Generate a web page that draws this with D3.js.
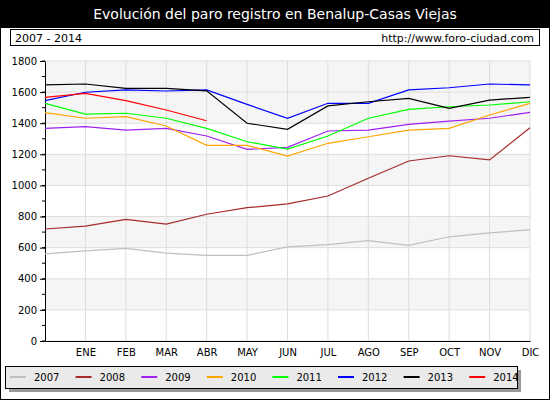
<!DOCTYPE html><html><head><meta charset="utf-8"><script src="https://cdn.jsdelivr.net/npm/d3@7"></script>
<style>body{margin:0;background:#fff}svg{display:block;font-family:"DejaVu Sans",sans-serif}</style></head><body><svg width="550" height="400"></svg><script>
const months=["","ENE","FEB","MAR","ABR","MAY","JUN","JUL","AGO","SEP","OCT","NOV","DIC"];
const years=["2007","2008","2009","2010","2011","2012","2013","2014"];
const colors=["#c0c0c0","#a52a2a","#a020f0","#ffa500","#00ff00","#0000ff","#000000","#ff0000"];
const v2007=[560,580,595,565,550,550,605,620,645,615,670,695,715];
const v2008=[720,739,782,752,815,857,881,932,1046,1157,1191,1164,1371];
const v2009=[1367,1378,1356,1367,1318,1232,1245,1350,1356,1393,1414,1432,1470];
const v2010=[1468,1432,1442,1382,1258,1258,1189,1271,1313,1356,1367,1453,1528];
const v2011=[1528,1459,1464,1432,1367,1281,1234,1318,1432,1489,1506,1517,1538];
const v2012=[1545,1599,1614,1607,1614,1521,1432,1528,1528,1614,1628,1652,1646];
const v2013=[1646,1652,1624,1624,1608,1400,1361,1511,1538,1560,1496,1549,1566];
const v2014=[1566,1592,1545,1485,1416];
const series=[v2007,v2008,v2009,v2010,v2011,v2012,v2013,v2014];
const yTicks=[0,200,400,600,800,1000,1200,1400,1600,1800];
const svg=d3.select("svg");
svg.append("rect").attr("x",0.5).attr("y",0.5).attr("width",549).attr("height",399).attr("fill","#fff").attr("stroke","#000");
svg.append("rect").attr("x",0).attr("y",0).attr("width",550).attr("height",28).attr("fill","#000");
svg.append("text").attr("x",275).attr("y",19).attr("text-anchor","middle").attr("fill","#fff").attr("font-size",14).text("Evolución del paro registro en Benalup-Casas Viejas");
svg.append("rect").attr("x",10.5).attr("y",29.5).attr("width",529).attr("height",16).attr("fill","#fff").attr("stroke","#000");
svg.append("text").attr("x",15).attr("y",42).attr("font-size",11).text("2007 - 2014");
svg.append("text").attr("x",534).attr("y",42).attr("text-anchor","end").attr("font-size",11).text("http://www.foro-ciudad.com");
const x=d3.scaleLinear().domain([0,12]).range([45,530]);
const y=d3.scaleLinear().domain([0,1800]).range([341,61]);
const g=svg.append("g");
for(let i=0;i<9;i++){ if(i%2==1) g.append("rect").attr("x",45).attr("y",y(yTicks[i+1])).attr("width",485).attr("height",y(yTicks[i])-y(yTicks[i+1])).attr("fill","#f5f5f5");}
g.append("rect").attr("x",45).attr("y",y(1800)).attr("width",485).attr("height",y(1600)-y(1800)).attr("fill","#f5f5f5");
yTicks.forEach(t=>g.append("line").attr("x1",45).attr("x2",530).attr("y1",y(t)).attr("y2",y(t)).attr("stroke","#ddd"));
d3.range(1,13).forEach(i=>g.append("line").attr("x1",x(i)).attr("x2",x(i)).attr("y1",61).attr("y2",341).attr("stroke","#ddd"));
const ya=svg.append("g").attr("transform","translate(45,0)").call(d3.axisLeft(y).tickValues(yTicks).tickFormat(d3.format("d")).tickSize(5).tickSizeOuter(0));
ya.selectAll("text").attr("font-size",10).attr("fill","#000").attr("font-family","DejaVu Sans");
const minor=d3.range(0,1801,100);
minor.forEach(t=>svg.append("line").attr("x1",42).attr("x2",45).attr("y1",y(t)).attr("y2",y(t)).attr("stroke","#000"));
const xa=svg.append("g").attr("transform","translate(0,341)").call(d3.axisBottom(x).tickValues(d3.range(1,13)).tickFormat(i=>months[i]).tickSize(0).tickPadding(8));
xa.select(".domain").attr("stroke","#000");
xa.selectAll("text").attr("font-size",10).attr("fill","#000").attr("font-family","DejaVu Sans");
const line=d3.line().x((d,i)=>x(i)).y(d=>y(d));
series.forEach((s,k)=>svg.append("path").attr("d",line(s)).attr("fill","none").attr("stroke",colors[k]).attr("stroke-width",1.2));
svg.append("rect").attr("x",9).attr("y",370).attr("width",512).attr("height",22).attr("fill","#999");
svg.append("rect").attr("x",5.5).attr("y",366.5).attr("width",512).attr("height",22).attr("fill","#eaeaea").attr("stroke","#000");
years.forEach((yr,k)=>{const lx=10+k*65.6;
svg.append("line").attr("x1",lx).attr("x2",lx+16).attr("y1",377).attr("y2",377).attr("stroke",colors[k]).attr("stroke-width",2);
svg.append("text").attr("x",lx+24).attr("y",381).attr("font-size",10).text(yr);});
</script></body></html>
